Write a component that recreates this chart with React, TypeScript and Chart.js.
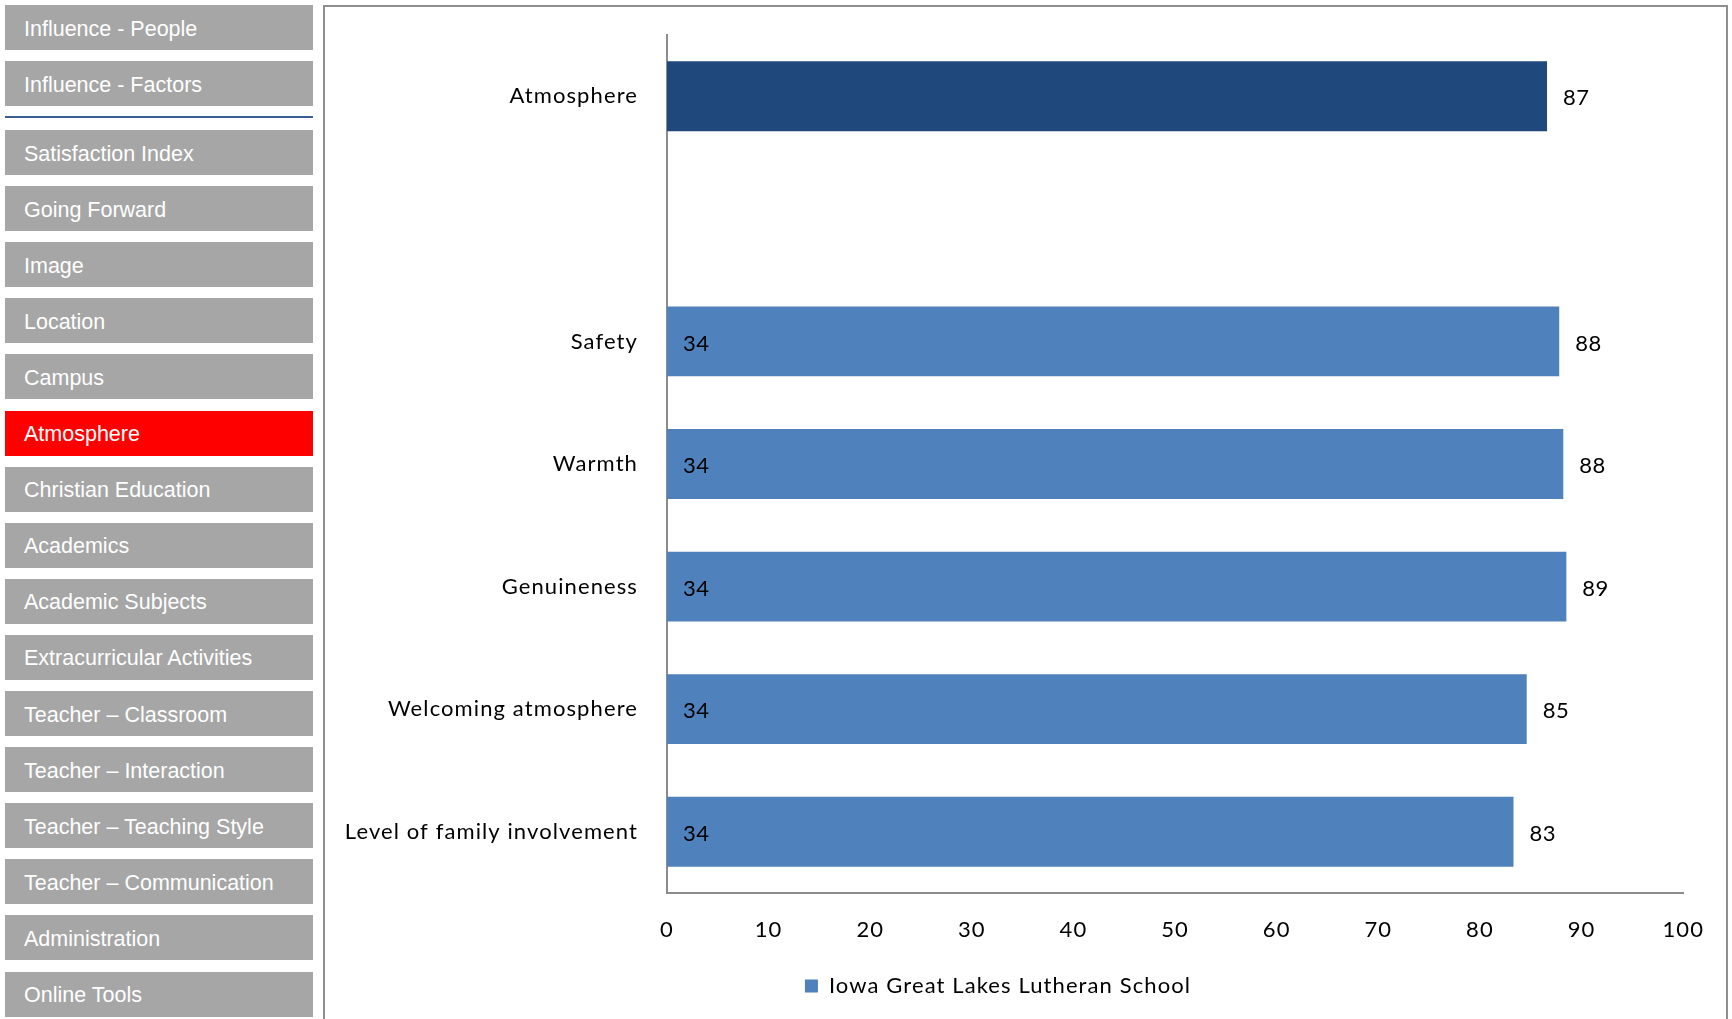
import React, { useEffect, useRef } from 'react';
import { Chart, registerables } from 'chart.js';

Chart.register(...registerables);

// ---- data ----
const categories = [
  'Atmosphere',
  '',
  'Safety',
  'Warmth',
  'Genuineness',
  'Welcoming atmosphere',
  'Level of family involvement',
];
const scores: (number | null)[] = [86.6, null, 87.8, 88.2, 88.5, 84.6, 83.3];
const counts: (number | null)[] = [null, null, 34, 34, 34, 34, 34];
const barColors = ['#1F497D', '#4F81BD', '#4F81BD', '#4F81BD', '#4F81BD', '#4F81BD', '#4F81BD'];
const seriesName = 'Iowa Great Lakes Lutheran School';
const xTickValues = [0, 10, 20, 30, 40, 50, 60, 70, 80, 90, 100];

const navTop = ['Influence - People', 'Influence - Factors'];
const navItems = [
  'Satisfaction Index',
  'Going Forward',
  'Image',
  'Location',
  'Campus',
  'Atmosphere',
  'Christian Education',
  'Academics',
  'Academic Subjects',
  'Extracurricular Activities',
  'Teacher – Classroom',
  'Teacher – Interaction',
  'Teacher – Teaching Style',
  'Teacher – Communication',
  'Administration',
  'Online Tools',
];
const activeItem = 'Atmosphere';

const FONT = 'Lato, "Open Sans", sans-serif';

function NavButton({ label, top, active }: { label: string; top: number; active?: boolean }) {
  return (
    <div
      style={{
        position: 'absolute',
        left: 5,
        top,
        width: 308,
        height: 45,
        background: active ? '#FF0000' : '#A6A6A6',
        color: '#FFFFFF',
        fontFamily: '"Liberation Sans", Arial, sans-serif',
        fontSize: 21.5,
        lineHeight: '45px',
        paddingLeft: 19,
        paddingTop: 1.5,
        boxSizing: 'border-box',
        whiteSpace: 'nowrap',
      }}
    >
      {label}
    </div>
  );
}

export default function App() {
  const ref = useRef<HTMLCanvasElement>(null);

  useEffect(() => {
    if (!ref.current) return;
    const labelPlugin = {
      id: 'barLabels',
      beforeLayout(chart: any) {
        (chart.ctx as any).letterSpacing = '1.1px';
      },
      beforeDraw(chart: any) {
        (chart.ctx as any).letterSpacing = '1.1px';
      },
      afterLayout(chart: any) {
        if (chart.legend) {
          chart.legend.left -= 9;
          chart.legend.right -= 9;
        }
      },
      afterDatasetsDraw(chart: any) {
        const ctx = chart.ctx;
        const meta = chart.getDatasetMeta(0);
        ctx.save();
        (ctx as any).letterSpacing = '0.5px';
        ctx.font = `22px ${FONT}`;
        ctx.fillStyle = '#000000';
        ctx.textBaseline = 'middle';
        ctx.textAlign = 'left';
        meta.data.forEach((el: any, i: number) => {
          const v = scores[i];
          if (v == null) return;
          ctx.fillText(String(Math.round(v)), el.x + 16, el.y + 2);
          const n = counts[i];
          if (n != null) ctx.fillText(String(n), el.base + 16, el.y + 2);
        });
        ctx.restore();
      },
    };

    const chart = new Chart(ref.current, {
      type: 'bar',
      data: {
        labels: categories,
        datasets: [
          {
            label: seriesName,
            data: scores as any,
            backgroundColor: barColors,
            borderWidth: 0,
            categoryPercentage: 1,
            barPercentage: 0.57,
          },
        ],
      },
      options: {
        indexAxis: 'y',
        responsive: false,
        animation: false,
        devicePixelRatio: 1,
        layout: { padding: { top: 35, right: 44, bottom: 12, left: 0 } },
        scales: {
          x: {
            type: 'linear',
            min: 0,
            max: 100,
            afterBuildTicks: (scale: any) => {
              scale.ticks = xTickValues.map((v) => ({ value: v }));
            },
            afterFit: (scale: any) => {
              scale.height = 72;
            },
            grid: { display: false, drawTicks: false },
            border: { display: true, color: '#8C8C8C', width: 2 },
            ticks: {
              padding: 24,
              color: '#000000',
              font: { family: FONT, size: 22 },
              maxRotation: 0,
            },
          },
          y: {
            afterFit: (scale: any) => {
              scale.width = 337;
              scale.paddingTop = 0;
              scale.paddingBottom = 0;
            },
            grid: { display: false, drawTicks: false },
            border: { display: true, color: '#8C8C8C', width: 2 },
            ticks: {
              padding: 29,
              color: '#000000',
              font: { family: FONT, size: 22 },
              autoSkip: false,
            },
          },
        },
        plugins: {
          legend: {
            display: true,
            position: 'bottom',
            labels: {
              color: '#000000',
              font: { family: FONT, size: 22 },
              boxWidth: 13,
              boxHeight: 13,
              padding: 10,
              generateLabels: () => [
                {
                  text: seriesName,
                  fillStyle: '#4F81BD',
                  strokeStyle: '#4F81BD',
                  lineWidth: 0,
                  hidden: false,
                  datasetIndex: 0,
                  fontColor: '#000000',
                } as any,
              ],
            },
          },
          tooltip: { enabled: false },
        },
      },
      plugins: [labelPlugin],
    });
    return () => chart.destroy();
  }, []);

  return (
    <div
      style={{
        position: 'fixed',
        left: 0,
        top: 0,
        width: 1732,
        height: 1019,
        background: '#FFFFFF',
        overflow: 'hidden',
      }}
    >
      {navTop.map((l, i) => (
        <NavButton key={l} label={l} top={5 + i * 56} />
      ))}
      <div style={{ position: 'absolute', left: 5, top: 116, width: 308, height: 2, background: '#3A5F94' }} />
      {navItems.map((l, i) => (
        <NavButton key={l} label={l} top={130 + i * 56.1} active={l === activeItem} />
      ))}
      <div
        style={{
          position: 'absolute',
          left: 323,
          top: 5,
          width: 1405,
          height: 1100,
          border: '2px solid #8E8E8E',
          boxSizing: 'border-box',
        }}
      />
      <canvas
        ref={ref}
        width={1398}
        height={1019}
        style={{ position: 'absolute', left: 330, top: 0, width: 1398, height: 1019 }}
      />
    </div>
  );
}
